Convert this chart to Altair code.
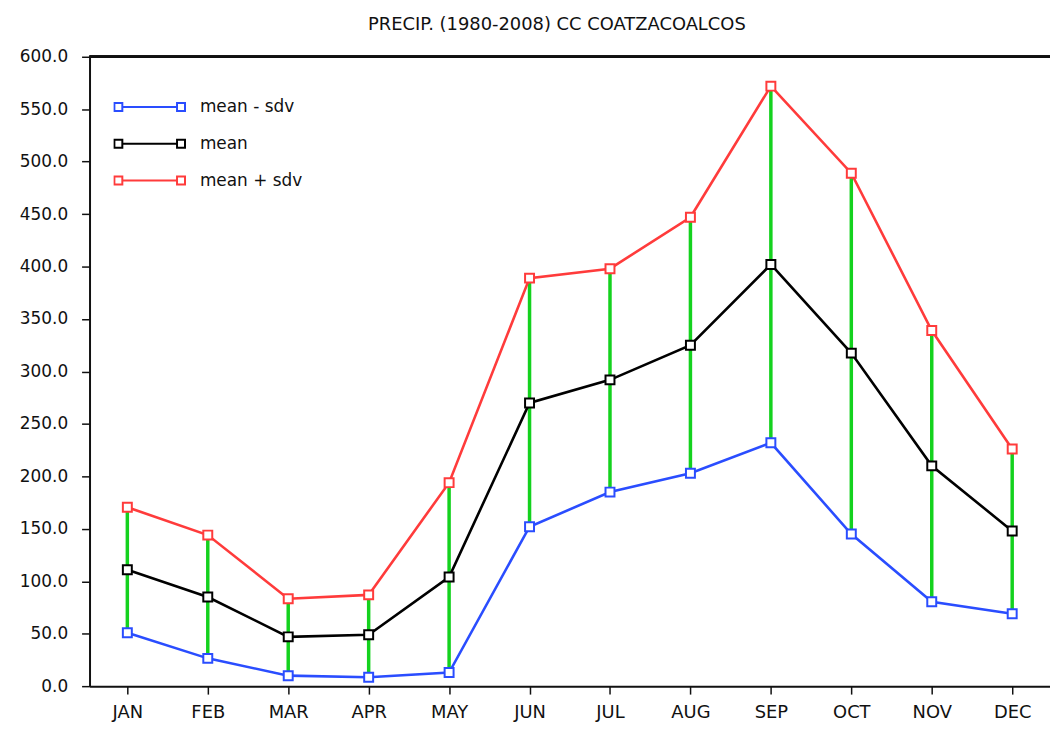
import altair as alt
import pandas as pd

months = ["JAN", "FEB", "MAR", "APR", "MAY", "JUN", "JUL", "AUG", "SEP", "OCT", "NOV", "DEC"]
mean_minus_sdv = [51, 26.5, 10, 8.5, 13, 152, 185, 203, 232, 145, 80.5, 69]
mean_vals = [111, 85, 47, 49, 104, 270, 292, 325, 402, 317.5, 210, 148]
mean_plus_sdv = [170.6, 144, 83.4, 87, 194, 389, 398, 447, 572, 489, 339, 226]

series_names = ["mean - sdv", "mean", "mean + sdv"]
series_colors = ["#2a4dff", "#000000", "#ff3b3b"]

df = pd.DataFrame({
    "month": months,
    "mean - sdv": mean_minus_sdv,
    "mean": mean_vals,
    "mean + sdv": mean_plus_sdv,
})

FONT = "DejaVu Sans"

x_enc = alt.X(
    "month:N",
    sort=months,
    scale=alt.Scale(type="point", padding=0.47),
    axis=alt.Axis(
        title=None, labelAngle=0, labelFont=FONT, labelFontSize=18, labelColor="#111",
        domainColor="#111", domainWidth=2, tickColor="#111", tickSize=8, tickWidth=1.5,
        labelPadding=10, grid=False,
    ),
)

y_scale = alt.Scale(domain=[0, 600], nice=False, zero=True)
y_axis = alt.Axis(
    title=None, format=".1f", values=list(range(0, 601, 50)), labelFont=FONT,
    labelFontSize=17, labelColor="#111", domainColor="#111", domainWidth=2,
    tickColor="#111", tickSize=8, tickWidth=1.5, labelPadding=14, grid=False,
)

color_scale = alt.Scale(domain=series_names, range=series_colors)

legend_path = (
    "M-0.775,0 L0.775,0 "
    "M-1,-0.113 L-0.775,-0.113 L-0.775,0.113 L-1,0.113 Z "
    "M0.775,-0.113 L1,-0.113 L1,0.113 L0.775,0.113 Z"
)

rules = alt.Chart(df).mark_rule(color="#14d21e", strokeWidth=3.5).encode(
    x=x_enc,
    y=alt.Y("mean - sdv:Q", scale=y_scale, axis=y_axis),
    y2="mean + sdv:Q",
)

base_long = alt.Chart(df).transform_fold(series_names, as_=["series", "value"])

lines = base_long.mark_line(strokeWidth=2.6).encode(
    x=x_enc,
    y=alt.Y("value:Q", scale=y_scale, axis=y_axis),
    color=alt.Color(
        "series:N", scale=color_scale, sort=series_names,
        legend=alt.Legend(
            title=None, orient="none", legendX=24, legendY=33, padding=0,
            symbolType=legend_path, symbolSize=5041, symbolStrokeWidth=2,
            clipHeight=35, rowPadding=2, labelFont=FONT, labelFontSize=17,
            labelColor="#111", labelOffset=14,
        ),
    ),
    detail="series:N",
)

points = base_long.mark_point(shape="square", filled=False, fill="white", fillOpacity=1,
                              size=81, strokeWidth=2, opacity=1).encode(
    x=x_enc,
    y=alt.Y("value:Q", scale=y_scale, axis=y_axis),
    stroke=alt.Stroke("series:N", scale=color_scale, legend=None),
)

top_border = alt.Chart(df).mark_rule(color="#111", strokeWidth=2).encode(
    y=alt.datum(600),
)

chart = alt.layer(rules, top_border, lines, points).properties(
    width=966,
    height=633,
    title=alt.Title(
        "PRECIP. (1980-2008) CC COATZACOALCOS", font=FONT, fontSize=18,
        fontWeight="normal", color="#111", anchor="middle", offset=14, dx=-13,
    ),
    autosize=alt.AutoSizeParams(type="none"),
    padding={"left": 82, "top": 47, "right": 0, "bottom": 35},
).configure_view(stroke=None)

chart.save("out.html", embed_options={"renderer": "svg", "actions": False})
